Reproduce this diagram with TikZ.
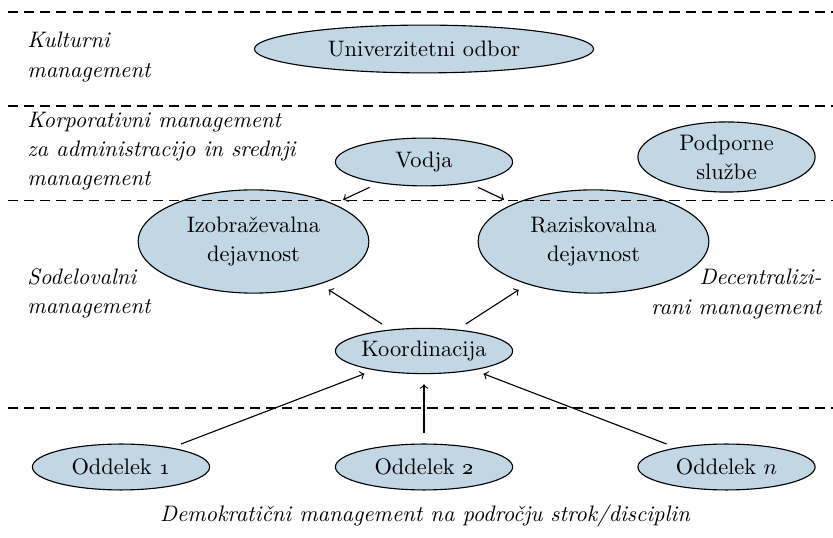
\documentclass[tikz,border=0pt]{standalone}
\usepackage{tikz}
\usetikzlibrary{shapes.geometric}
\definecolor{ovalfill}{RGB}{194,214,228}
\tikzset{
  oval/.style={ellipse,draw,line width=0.5pt,fill=ovalfill,inner sep=0pt,align=center},
  lbl/.style={font=\itshape,inner sep=0pt},
  arr/.style={->,line width=0.5pt,shorten >=4.5pt,shorten <=4.5pt},
  sep/.style={line width=0.6pt,dash pattern=on 4.5pt off 2.7pt}
}

\begin{document}
\begin{tikzpicture}[x=0.01568cm,y=-0.01568cm]
\useasboundingbox (0,0) rectangle (833,538);
\node[oval,minimum width=5.32cm,minimum height=0.75cm] (odbor) at (424,49) {Univerzitetni odbor};
\node[oval,minimum width=2.78cm,minimum height=0.75cm] (vodja) at (424,162) {Vodja};
\node[oval,minimum width=2.78cm,minimum height=1.10cm] (podpora) at (726.5,157) {Podporne\\[1pt]službe};
\node[oval,minimum width=3.62cm,minimum height=1.62cm] (izob) at (253.5,241.5) {Izobraževalna\\[1pt]dejavnost};
\node[oval,minimum width=3.62cm,minimum height=1.62cm] (razisk) at (593.5,241.5) {Raziskovalna\\[1pt]dejavnost};
\node[oval,minimum width=2.78cm,minimum height=0.71cm] (koord) at (424,351) {Koordinacija};
\node[oval,minimum width=2.78cm,minimum height=0.72cm] (odd1) at (121,467) {Oddelek \oldstylenums{1}};
\node[oval,minimum width=2.78cm,minimum height=0.72cm] (odd2) at (424,467) {Oddelek \oldstylenums{2}};
\node[oval,minimum width=2.78cm,minimum height=0.72cm] (oddn) at (726.5,467) {Oddelek $n$};

\node[lbl,anchor=west,align=left] (kult) at (27,57) {Kulturni\\[1pt]management};
\node[lbl,anchor=west,align=left] (korp) at (27,151.5) {Korporativni management\\[1pt]za administracijo in srednji\\[1pt]management};
\node[lbl,anchor=west,align=left] (sodel) at (27,293) {Sodelovalni\\[1pt]management};
\node[lbl,anchor=east,align=right] (decent) at (822,294) {Decentralizi-\\[1pt]rani management};
\node[lbl] (demo) at (425,516) {Demokratični management na področju strok/disciplin};

\draw[arr] (vodja) -- (izob);
\draw[arr] (vodja) -- (razisk);
\draw[arr] (koord) -- (izob);
\draw[arr] (koord) -- (razisk);
\draw[arr] (odd1) -- (koord);
\draw[arr] (odd2) -- (koord);
\draw[arr] (oddn) -- (koord);

\foreach \y in {12,106,200.5,408}
  \draw[sep] (8,\y) -- (833,\y);
\end{tikzpicture}
\end{document}
